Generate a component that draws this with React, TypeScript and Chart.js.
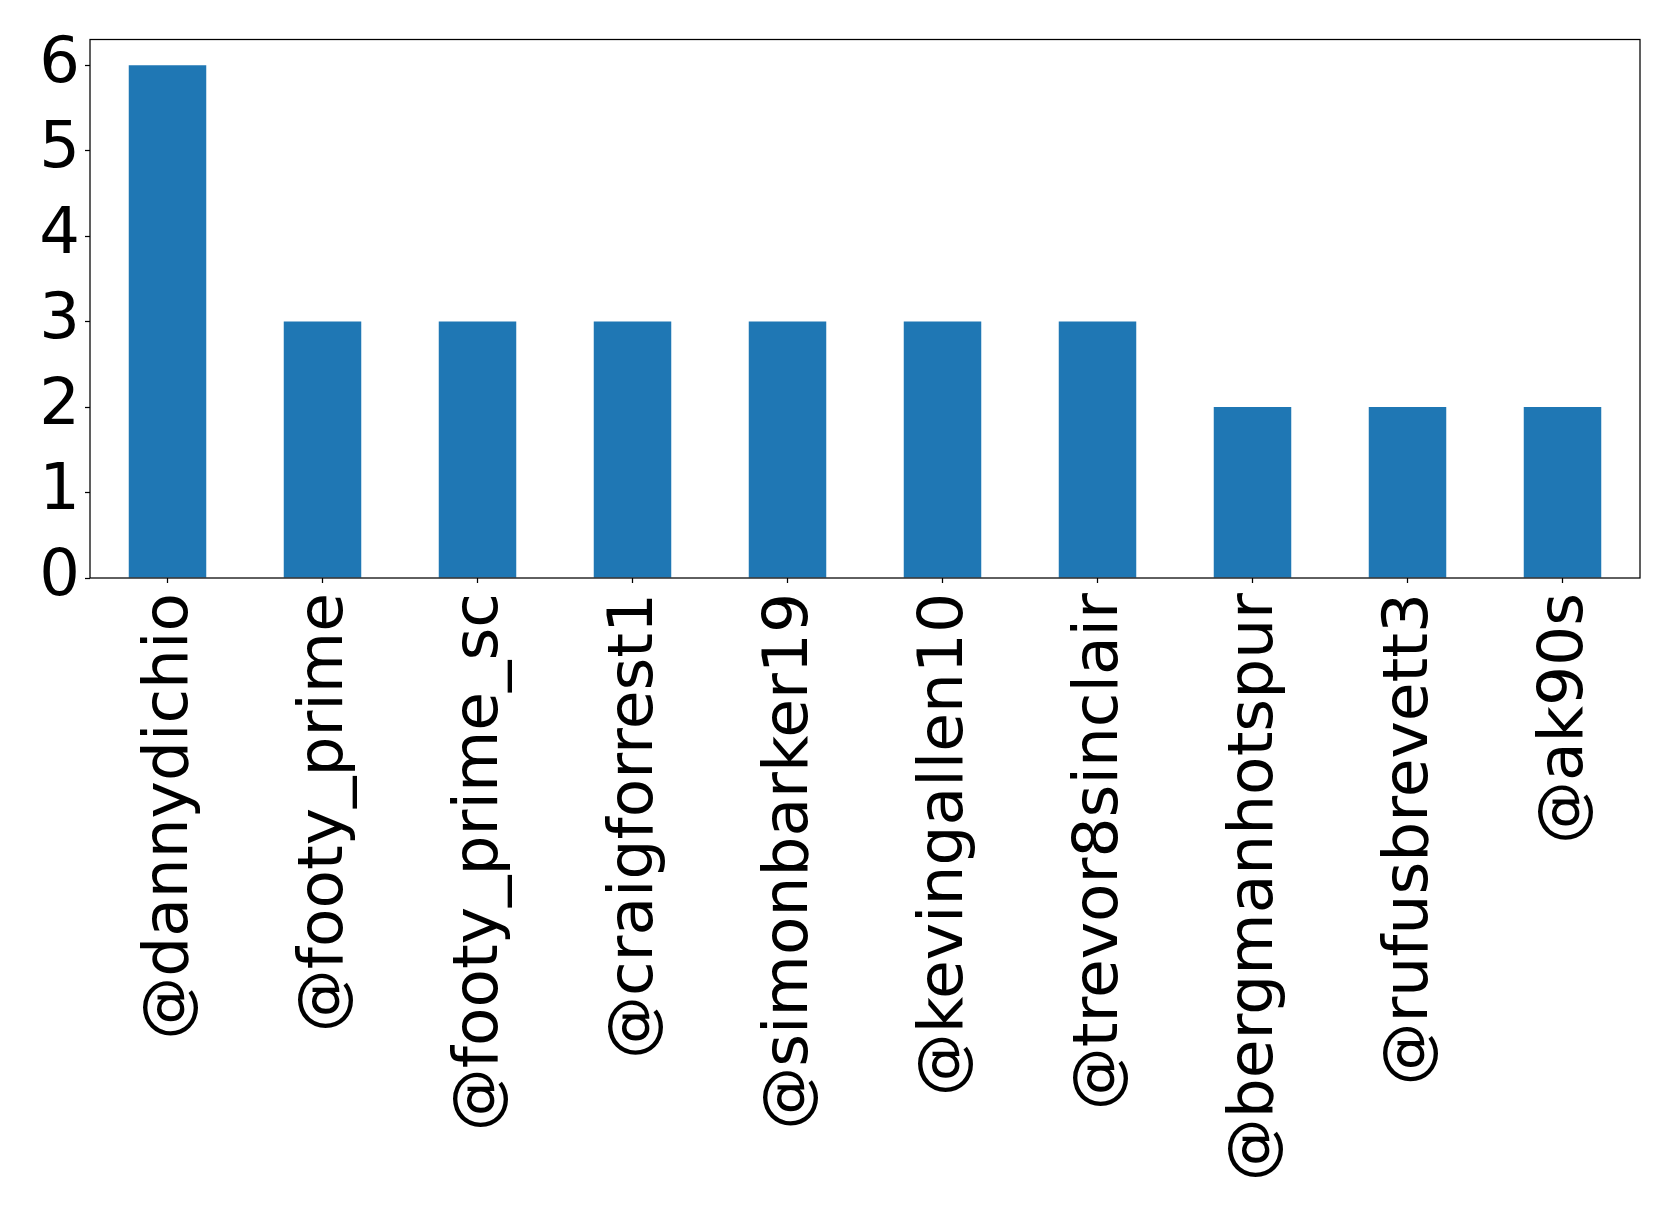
import React, { useEffect, useRef } from "react";
import { Chart, registerables } from "chart.js";

Chart.register(...registerables);

const categories = [
  "@dannydichio",
  "@footy_prime",
  "@footy_prime_sc",
  "@craigforrest1",
  "@simonbarker19",
  "@kevingallen10",
  "@trevor8sinclair",
  "@bergmanhotspur",
  "@rufusbrevett3",
  "@ak90s",
];
const counts = [6, 3, 3, 3, 3, 3, 3, 2, 2, 2];
const yTicks = [0, 1, 2, 3, 4, 5, 6];

const FONT = "'DejaVu Sans', sans-serif";

const frame = {
  id: "frame",
  afterDraw(chart: any) {
    const { ctx, chartArea } = chart;
    ctx.save();
    ctx.strokeStyle = "#000";
    ctx.lineWidth = 1.25;
    ctx.strokeRect(chartArea.left, chartArea.top, chartArea.right - chartArea.left, chartArea.bottom - chartArea.top);
    ctx.restore();
  },
};

export default function App() {
  const ref = useRef<HTMLCanvasElement | null>(null);
  useEffect(() => {
    if (!ref.current) return;
    const chart = new Chart(ref.current, {
      type: "bar",
      data: {
        labels: categories,
        datasets: [
          {
            data: counts,
            backgroundColor: "#1f77b4",
            barPercentage: 0.5,
            categoryPercentage: 1,
          },
        ],
      },
      options: {
        animation: false,
        responsive: false,
        maintainAspectRatio: false,
        layout: { padding: { top: 39.5, right: 39, left: 0, bottom: 0 } },
        plugins: { legend: { display: false }, tooltip: { enabled: false } },
        scales: {
          x: {
            offset: true,
            grid: { display: true, offset: false, drawOnChartArea: false, tickLength: 5, tickColor: "#000", tickWidth: 1.25 },
            border: { display: false },
            ticks: {
              color: "#000",
              font: { family: FONT, size: 63 },
              minRotation: 90,
              maxRotation: 90,
              autoSkip: false,
              padding: 10,
              labelOffset: 3,
            },
            afterFit: (s: any) => {
              s.height = 1211 - 578;
              s.paddingLeft = 0;
              s.paddingRight = 0;
            },
          },
          y: {
            min: 0,
            max: 6.3,
            afterBuildTicks: (s: any) => {
              s.ticks = yTicks.map((v) => ({ value: v }));
            },
            grid: { display: true, drawOnChartArea: false, tickLength: 5, tickColor: "#000", tickWidth: 1.25 },
            border: { display: false },
            ticks: {
              color: "#000",
              font: { family: FONT, size: 64 },
              padding: 5,
              callback: (v: any) => String(v),
            },
            afterFit: (s: any) => {
              s.width = 90;
              s.paddingTop = 0;
              s.paddingBottom = 0;
            },
          },
        },
      },
      plugins: [frame],
    });
    return () => chart.destroy();
  }, []);
  return (
    <div style={{ position: "fixed", left: 0, top: 0, width: 1679, height: 1211, background: "#fff" }}>
      <canvas ref={ref} width={1679} height={1211} style={{ width: 1679, height: 1211, display: "block" }} />
    </div>
  );
}
